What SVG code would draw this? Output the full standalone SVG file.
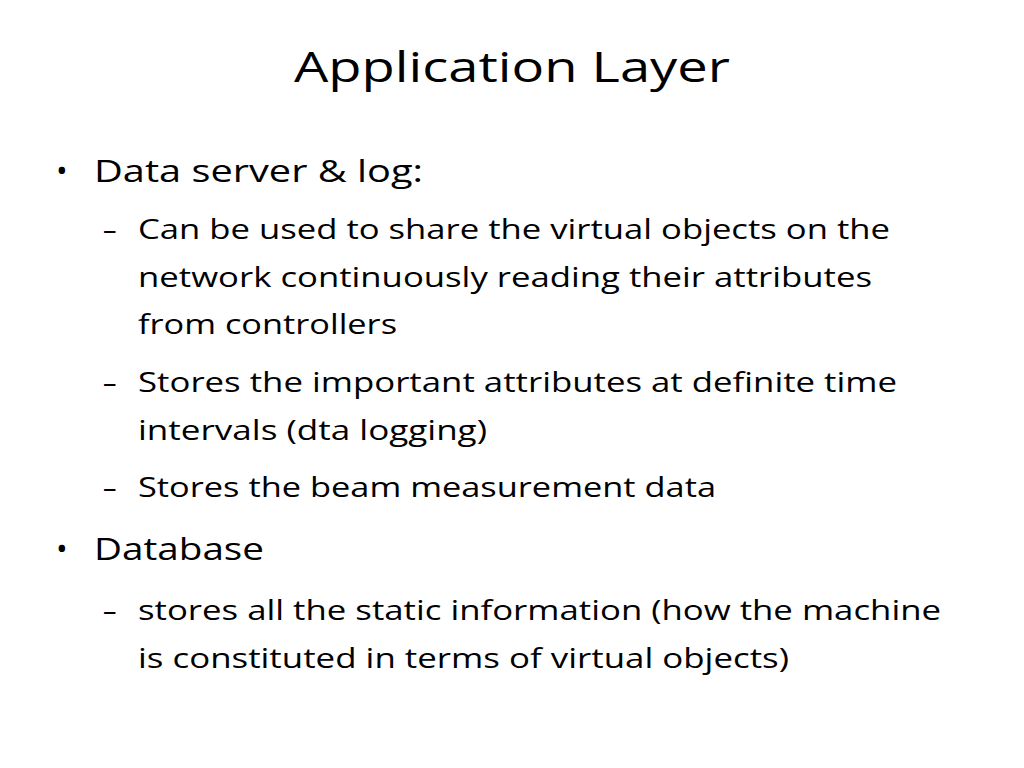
<svg xmlns="http://www.w3.org/2000/svg" width="1024" height="768" viewBox="0 0 1024 768">
<style>
text{font-family:"Open Sans","Liberation Sans",sans-serif;fill:#000}
.t{font-size:42px}
.b{font-size:31px}
.s{font-size:27px}
</style>
<rect width="1024" height="768" fill="#fff"/>
<g id="title"><text class="t" x="294" y="82" textLength="436" lengthAdjust="spacingAndGlyphs">Application Layer</text></g>
<g id="body">
<text class="b" x="56" y="182">•</text>
<text class="b" x="94" y="182" textLength="329" lengthAdjust="spacingAndGlyphs">Data server &amp; log:</text>
<text class="s" x="103" y="239">–</text>
<text class="s" x="138" y="239" textLength="752" lengthAdjust="spacingAndGlyphs">Can be used to share the virtual objects on the</text>
<text class="s" x="138" y="287" textLength="734" lengthAdjust="spacingAndGlyphs">network continuously reading their attributes</text>
<text class="s" x="138" y="334" textLength="259" lengthAdjust="spacingAndGlyphs">from controllers</text>
<text class="s" x="103" y="392">–</text>
<text class="s" x="138" y="392" textLength="759" lengthAdjust="spacingAndGlyphs">Stores the important attributes at definite time</text>
<text class="s" x="138" y="440" textLength="349" lengthAdjust="spacingAndGlyphs">intervals (dta logging)</text>
<text class="s" x="103" y="497">–</text>
<text class="s" x="138" y="497" textLength="578" lengthAdjust="spacingAndGlyphs">Stores the beam measurement data</text>
<text class="b" x="56" y="560">•</text>
<text class="b" x="94" y="560" textLength="170" lengthAdjust="spacingAndGlyphs">Database</text>
<text class="s" x="103" y="620">–</text>
<text class="s" x="138" y="620" textLength="803" lengthAdjust="spacingAndGlyphs">stores all the static information (how the machine</text>
<text class="s" x="138" y="668" textLength="651" lengthAdjust="spacingAndGlyphs">is constituted in terms of virtual objects)</text>
</g>
</svg>
